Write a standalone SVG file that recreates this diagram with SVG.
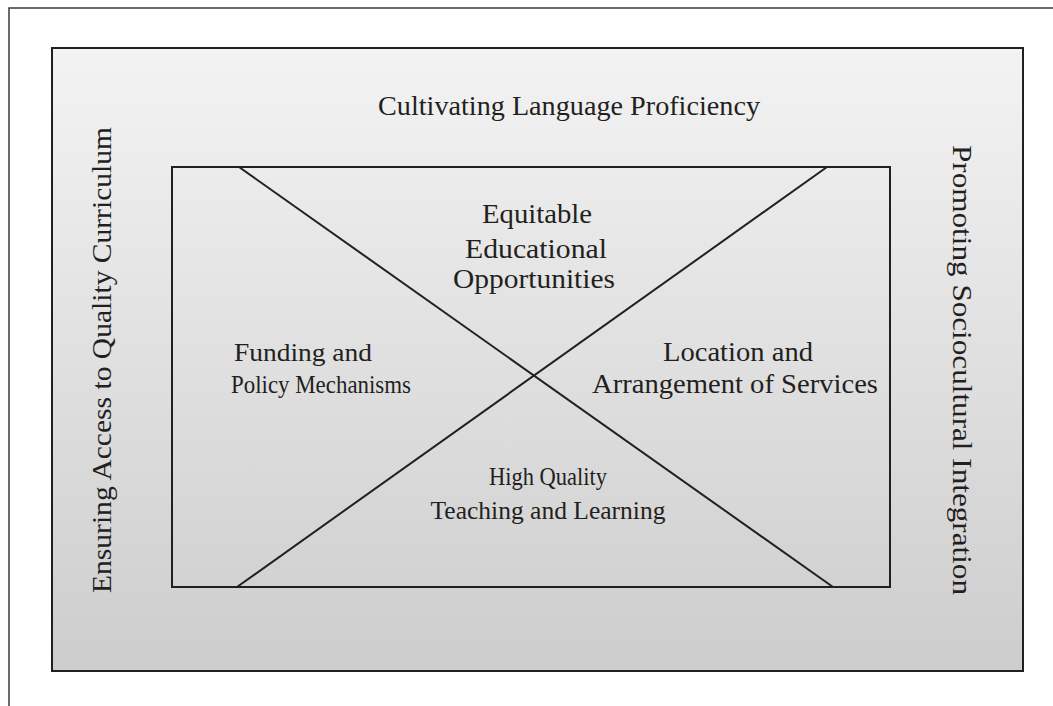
<svg xmlns="http://www.w3.org/2000/svg" width="1053" height="706" viewBox="0 0 1053 706">
<defs>
<linearGradient id="bg" x1="0" y1="0" x2="0" y2="1">
<stop offset="0" stop-color="#f3f3f3"/>
<stop offset="1" stop-color="#cdcdce"/>
</linearGradient>
<style>
.t{font-family:"Liberation Serif","Times New Roman",serif;font-size:27px;fill:#231f20;text-anchor:middle}
.s{font-size:25px}
.ln{stroke:#231f20;stroke-width:2;fill:none}
</style>
</defs>
<rect width="1053" height="706" fill="#fff"/>
<g id="frame">
<path d="M9 706 V8 H1053" stroke="#3a3a3a" stroke-width="1.5" fill="none"/>
</g>
<g id="outer-box">
<rect x="52" y="48" width="971" height="623" fill="url(#bg)" stroke="#231f20" stroke-width="2"/>
<text class="t" x="569" y="115" textLength="382" lengthAdjust="spacingAndGlyphs">Cultivating Language Proficiency</text>
<text class="t" transform="translate(111,360) rotate(-90)" textLength="466" lengthAdjust="spacingAndGlyphs">Ensuring Access to Quality Curriculum</text>
<text class="t" transform="translate(953,370) rotate(90)" textLength="450" lengthAdjust="spacingAndGlyphs">Promoting Sociocultural Integration</text>
</g>
<g id="inner-box">
<rect x="172" y="167" width="718" height="420" class="ln"/>
</g>
<g id="connectors">
<line x1="239" y1="167" x2="833" y2="587" class="ln"/>
<line x1="827" y1="167" x2="237" y2="587" class="ln"/>
</g>
<g id="top-node">
<text class="t" x="537" y="223" textLength="110" lengthAdjust="spacingAndGlyphs">Equitable</text>
<text class="t" x="536" y="258" textLength="142" lengthAdjust="spacingAndGlyphs">Educational</text>
<text class="t" x="534" y="288" textLength="162" lengthAdjust="spacingAndGlyphs">Opportunities</text>
</g>
<g id="left-node">
<text class="t s" x="303" y="361" textLength="138" lengthAdjust="spacingAndGlyphs">Funding and</text>
<text class="t s" x="321" y="393" textLength="180" lengthAdjust="spacingAndGlyphs">Policy Mechanisms</text>
</g>
<g id="right-node">
<text class="t" x="738" y="361" textLength="150" lengthAdjust="spacingAndGlyphs">Location and</text>
<text class="t" x="735" y="393" textLength="286" lengthAdjust="spacingAndGlyphs">Arrangement of Services</text>
</g>
<g id="bottom-node">
<text class="t s" x="548" y="485" textLength="118" lengthAdjust="spacingAndGlyphs">High Quality</text>
<text class="t s" x="548" y="519" textLength="235" lengthAdjust="spacingAndGlyphs">Teaching and Learning</text>
</g>
</svg>
